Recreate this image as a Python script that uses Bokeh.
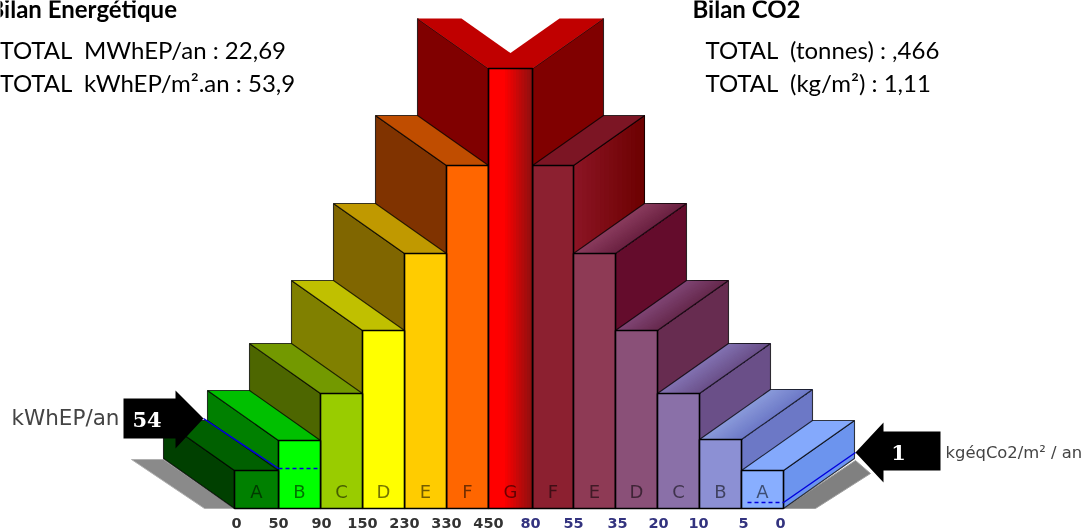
from bokeh.plotting import figure
from bokeh.embed import file_html
from bokeh.resources import INLINE
from bokeh.core.properties import value

# ---- data ----
left_letters = ["A", "B", "C", "D", "E", "F", "G"]
right_letters = ["F", "E", "D", "C", "B", "A"]
left_edges = [234, 278, 320, 362, 404, 446, 488]
right_edges = [532, 573, 615, 657, 699, 741, 783]
left_heights = [38, 68, 115, 178, 255, 343]
center_height = 440
right_heights = [343, 255, 178, 115, 69, 38]
left_ticks = ["0", "50", "90", "150", "230", "330", "450"]
right_ticks = ["80", "55", "35", "20", "10", "5", "0"]
left_tick_x = [236, 278, 321, 362, 404, 446, 488]
right_tick_x = [530, 573, 617, 658, 698, 743, 780]
left_front = ["#008000", "#00ff00", "#99cc00", "#ffff00", "#ffcc00", "#ff6600"]
left_top = ["#006000", "#00c000", "#739900", "#c0c000", "#c09900", "#c04d00"]
left_side = ["#004000", "#008000", "#4d6600", "#808000", "#806600", "#803300"]
right_front = ["#8c2030", "#8e3a55", "#8a5078", "#8a70a8", "#8c90d4", "#88aeff"]
right_top = [("#7c1524", "#7c1524"), ("#8a3c5e", "#6a2040"), ("#7f4574", "#66284c"),
             ("#8272b2", "#6a4f88"), ("#8a9ada", "#6c78c6"), ("#84a9fc", "#84a9fc")]
right_side = [("#8c1525", "#6c0000"), ("#640c2c", "#640c2c"), ("#672c50", "#672c50"),
              ("#6a4f88", "#6a4f88"), ("#6c78c6", "#6c78c6"), ("#6c94ee", "#6c94ee")]
energy_value = "54"
co2_value = "1"
energy_level = 40
co2_level = 6

DX, DY = 71, 50
BASE = 508


def yy(pix):
    return BASE - pix


p = figure(width=1083, height=529, x_range=(0, 1083), y_range=(yy(529), yy(0)),
           output_backend="svg", toolbar_location=None, min_border=0,
           x_axis_location=None, y_axis_location=None, outline_line_color=None,
           background_fill_color="white", border_fill_color="white")
p.grid.visible = False
p.styles = {"position": "fixed", "left": "0px", "top": "0px"}


def rgb(c):
    return [int(c[i:i + 2], 16) for i in (1, 3, 5)]


def mix(a, b, t):
    x, y = rgb(a), rgb(b)
    return "#%02x%02x%02x" % tuple(round(x[i] + (y[i] - x[i]) * t) for i in range(3))


def lerp(v, w, t):
    return v + (w - v) * t


def gradient(xs, ys, c0, c1, stops=None):
    """quad (a, b, c, d): a->b and d->c run along the gradient"""
    n = 16
    if c0 != c1:
        sx, sy, cols = [], [], []
        for i in range(n):
            t0, t1 = i / n, 1
            sx.append([lerp(xs[0], xs[1], t0), lerp(xs[0], xs[1], t1), lerp(xs[3], xs[2], t1), lerp(xs[3], xs[2], t0)])
            sy.append([lerp(ys[0], ys[1], t0), lerp(ys[0], ys[1], t1), lerp(ys[3], ys[2], t1), lerp(ys[3], ys[2], t0)])
            t = (i + .5) / n
            if stops:
                t = max(0, (t - stops) / (1 - stops))
            cols.append(mix(c0, c1, t))
        p.patches(sx, sy, fill_color=cols, line_color=None)
        p.patch(xs, ys, fill_alpha=0, line_color="#000000", line_alpha=0.75, line_width=1.1)
    else:
        p.patch(xs, ys, fill_color=c0, line_color="#000000", line_alpha=0.75, line_width=1.1)


def column(x0, x1, h, front, top, side, side_x, off):
    gradient([side_x, side_x + off, side_x + off, side_x], [h, h + DY, DY, 0], side[0], side[1])
    gradient([x0 + off, x1 + off, x1, x0], [h + DY, h + DY, h, h], top[0], top[1])
    p.quad(left=[x0], right=[x1], bottom=[0], top=[h], fill_color=front,
           line_color="#000000", line_width=1.6)


# ground shadows
p.patch([131, 163, 234, 204], [yy(459), yy(459), yy(508), yy(508)], fill_color="#8a8a8a", line_color="#b0b0b0")
p.patch([783, 815, 870, 855], [yy(508), yy(508), yy(473), yy(460)], fill_color="#808080", line_color="#a0a0a0")

# centre column: both sides and tops
cx0, cx1 = left_edges[6], right_edges[0]
gradient([cx0, cx0 - DX, cx0 - DX, cx0], [center_height, center_height + DY, DY, 0], "#800000", "#800000")
gradient([cx1, cx1 + DX, cx1 + DX, cx1], [center_height, center_height + DY, DY, 0], "#800000", "#800000")
p.patch([cx0, cx1, cx1 - DX, cx0 - DX], [center_height, center_height, center_height + DY, center_height + DY],
        fill_color="#c00000", line_color=None)
p.patch([cx0, cx1, cx1 + DX, cx0 + DX], [center_height, center_height, center_height + DY, center_height + DY],
        fill_color="#c00000", line_color=None)

for i in range(5, -1, -1):
    column(left_edges[i], left_edges[i + 1], left_heights[i], left_front[i],
           (left_top[i], left_top[i]), (left_side[i], left_side[i]), left_edges[i], -DX)
for i in range(0, 6):
    column(right_edges[i], right_edges[i + 1], right_heights[i], right_front[i],
           right_top[i], right_side[i], right_edges[i + 1], DX)

# centre front with its gradient
gradient([cx0, cx1, cx1, cx0], [0, 0, center_height, center_height], "#ff0000", "#8b1010", stops=0.35)
p.quad(left=[cx0], right=[cx1], bottom=[0], top=[center_height], fill_alpha=0, line_color="#000000", line_width=1.6)

# letters
all_edges = left_edges + right_edges
lx = [(all_edges[i] + all_edges[i + 1]) / 2 for i in range(13)]
p.text(lx, [yy(490.5)] * 13, text=left_letters + right_letters, text_align="center", text_baseline="middle",
       text_font=value("DejaVu Sans"), text_font_size="18px", text_color="#000000", text_alpha=0.55)

# tick labels
p.text(left_tick_x, [yy(522)] * 7, text=left_ticks, text_align="center", text_baseline="middle",
       text_font=value("DejaVu Sans"), text_font_style="bold", text_font_size="14.5px", text_color="#333333")
p.text(right_tick_x, [yy(522)] * 7, text=right_ticks, text_align="center", text_baseline="middle",
       text_font=value("DejaVu Sans"), text_font_style="bold", text_font_size="14.5px", text_color="#33337f")

# blue level lines
p.line([203, 278], [yy(418), energy_level], line_color="#0000dd", line_width=1.5)
p.line([278, 320], [energy_level, energy_level], line_color="#0000dd", line_width=1.5, line_dash="4 3")
p.line([783, 855], [co2_level, yy(452)], line_color="#0000dd", line_width=1.5)
p.line([747, 783], [co2_level, co2_level], line_color="#0000dd", line_width=1.5, line_dash="4 3")

# arrows
p.patch([123, 175, 175, 203, 175, 175, 123], [yy(398), yy(398), yy(390), yy(418), yy(448), yy(438), yy(438)],
        fill_color="#000000", line_color=None)
p.patch([855, 883, 883, 940, 940, 883, 883], [yy(452), yy(422), yy(431), yy(431), yy(470), yy(470), yy(482)],
        fill_color="#000000", line_color=None)
p.text([146.5], [yy(418.5)], text=[energy_value], text_align="center", text_baseline="middle", text_font=value("DejaVu Serif"),
       text_font_style="bold", text_font_size="21px", text_color="#ffffff")
p.text([898], [yy(451.5)], text=[co2_value], text_align="center", text_baseline="middle", text_font=value("DejaVu Serif"),
       text_font_style="bold", text_font_size="21px", text_color="#ffffff")
p.text([11], [yy(417)], text=["kWhEP/an"], text_baseline="middle", text_font=value("DejaVu Sans"), text_font_size="21.5px", text_color="#444444")
p.text([945], [yy(452)], text=["kgéqCo2/m² / an"], text_baseline="middle", text_font=value("DejaVu Sans"), text_font_size="16.4px", text_color="#444444")

# header texts
p.text([-12, 692], [yy(8)] * 2, text=["Bilan Energétique", "Bilan CO2"], text_baseline="middle", text_font=value("Lato"),
       text_font_style="bold", text_font_size="24px", text_color="#000000")
p.text([-1, -1, 705, 705], [yy(49), yy(82), yy(49), yy(82)], text_baseline="middle",
       text=["TOTAL\u00a0 MWhEP/an : 22,69", "TOTAL\u00a0 kWhEP/m².an : 53,9", "TOTAL\u00a0 (tonnes) : ,466", "TOTAL\u00a0 (kg/m²) : 1,11"],
       text_font=value("Lato"), text_font_size="24px", text_color="#000000")

open("out.html", "w").write(file_html(p, INLINE))
